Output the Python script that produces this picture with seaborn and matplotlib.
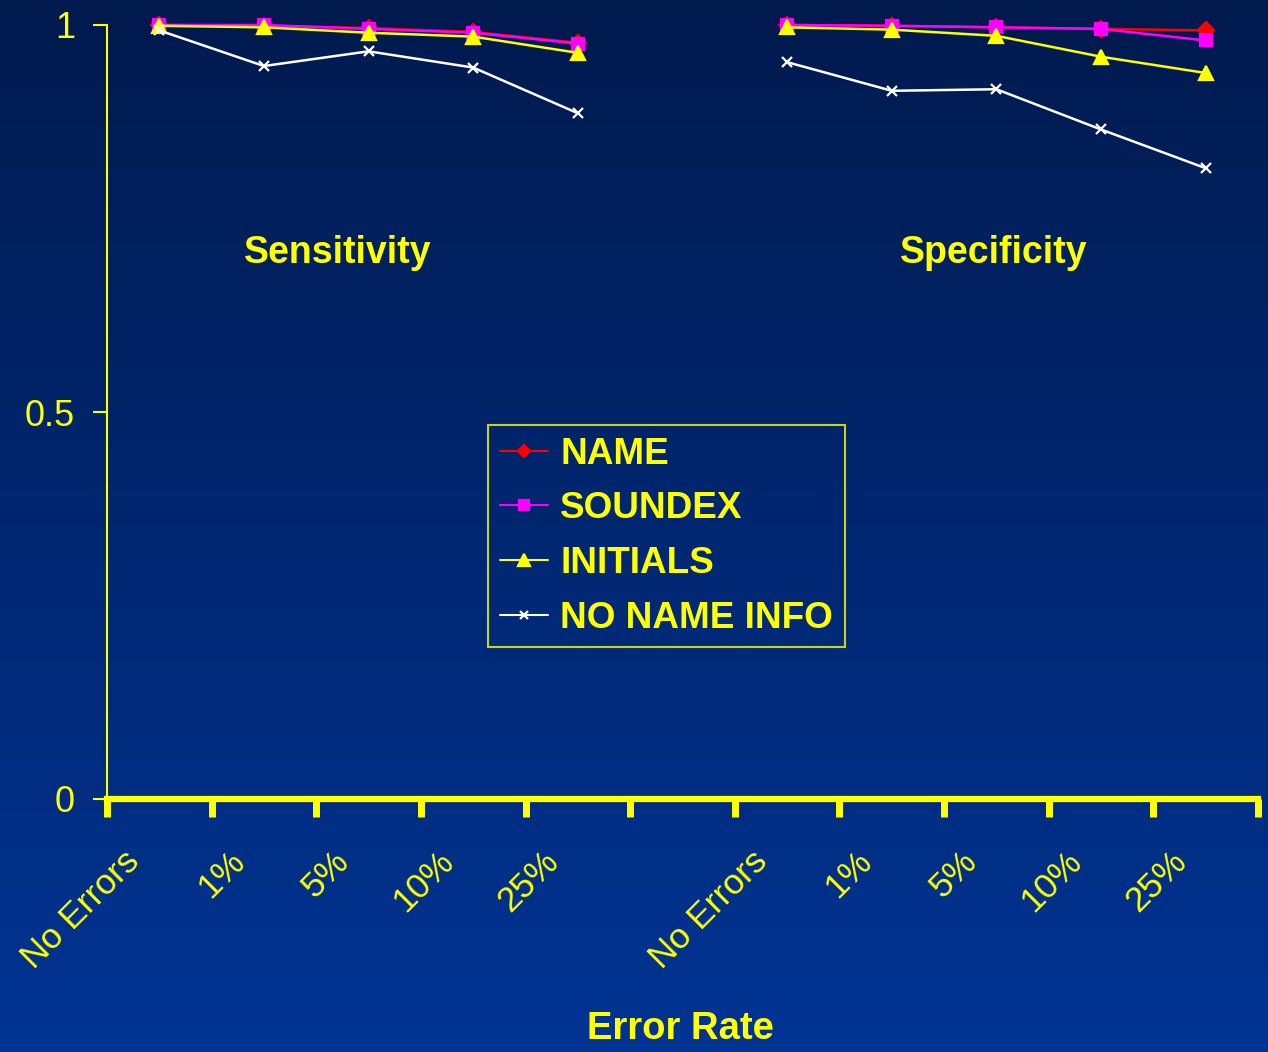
import numpy as np
import pandas as pd
import matplotlib
matplotlib.use("Agg")
import matplotlib.pyplot as plt
import matplotlib.transforms as mtransforms
from matplotlib.colors import LinearSegmentedColormap
import seaborn as sns

# ---- data ----
error_rates = ["No Errors", "1%", "5%", "10%", "25%"]
methods = ["NAME", "SOUNDEX", "INITIALS", "NO NAME INFO"]

sens_name = [1.000, 0.999, 0.996, 0.991, 0.977]
sens_soundex = [1.000, 1.000, 0.995, 0.990, 0.976]
sens_initials = [0.999, 0.997, 0.990, 0.985, 0.964]
sens_noname = [0.993, 0.947, 0.966, 0.945, 0.886]

spec_name = [1.000, 0.999, 0.997, 0.995, 0.993]
spec_soundex = [1.000, 0.999, 0.997, 0.995, 0.980]
spec_initials = [0.997, 0.994, 0.986, 0.959, 0.938]
spec_noname = [0.952, 0.915, 0.917, 0.865, 0.815]

group_titles = ["Sensitivity", "Specificity"]

YELLOW = "#FFFF00"
colors = {"NAME": "#FF0000", "SOUNDEX": "#FF00FF",
          "INITIALS": "#FFFF00", "NO NAME INFO": "#FFFFFF"}
markers = {"NAME": "D", "SOUNDEX": "s", "INITIALS": "^", "NO NAME INFO": "x"}
msizes = {"NAME": 8, "SOUNDEX": 9, "INITIALS": 10, "NO NAME INFO": 7}

# long-form table: one group of five categories, an empty slot, then the next group
rows = []
series = {
    "Sensitivity": [sens_name, sens_soundex, sens_initials, sens_noname],
    "Specificity": [spec_name, spec_soundex, spec_initials, spec_noname],
}
for g, title in enumerate(group_titles):
    for m, vals in zip(methods, series[title]):
        for i, v in enumerate(vals):
            rows.append({"pos": g * 6 + i, "value": v, "method": m, "measure": title})
df = pd.DataFrame(rows)

sns.set_theme(style="white")
plt.rcParams["font.family"] = ["Liberation Sans", "DejaVu Sans"]

fig = plt.figure(figsize=(12.68, 10.52), dpi=100)

# background gradient
bg = fig.add_axes([0, 0, 1, 1], zorder=-10)
cmap = LinearSegmentedColormap.from_list("bg", ["#011A4E", "#003494"])
grad = np.linspace(0, 1, 256).reshape(-1, 1)
bg.imshow(grad, aspect="auto", cmap=cmap, extent=[0, 1, 0, 1], origin="upper")
bg.set_axis_off()

ax = fig.add_axes([107 / 1268, 1 - 799 / 1052, (1258 - 107) / 1268, (799 - 25) / 1052])
ax.set_facecolor("none")

for m in methods:
    for title in group_titles:
        sub = df[(df["measure"] == title) & (df["method"] == m)]
        sns.lineplot(data=sub, x="pos", y="value", color=colors[m],
                     marker=markers[m], markersize=msizes[m],
                     markeredgecolor=colors[m], markerfacecolor=colors[m],
                     markeredgewidth=1.6, linewidth=1.8, ax=ax, clip_on=False,
                     label=m if title == group_titles[0] else None,
                     legend=False)

ax.set_xlim(-0.5, 10.5)
ax.set_ylim(0, 1)

labels = error_rates + [""] + error_rates
ax.set_xticks(range(11))
ax.set_xticklabels(labels)
ax.set_xticks(np.arange(-0.5, 11, 1.0), minor=True)
ax.tick_params(axis="x", which="major", length=0, pad=33, labelsize=25.5,
               labelcolor=YELLOW)
ax.tick_params(axis="x", which="minor", length=13, width=5, color=YELLOW,
               direction="out", bottom=True)
offset = mtransforms.ScaledTranslation(-13 / 100, 0, fig.dpi_scale_trans)
for lab in ax.get_xticklabels():
    lab.set_rotation(45)
    lab.set_ha("right")
    lab.set_va("top")
    lab.set_transform(lab.get_transform() + offset)

ax.set_yticks([0, 0.5, 1])
ax.set_yticklabels(["0", "0.5", "1"])
ax.tick_params(axis="y", length=10, width=1.5, color=YELLOW, direction="out",
               pad=13, labelsize=26, labelcolor=YELLOW, left=True)

for side in ["top", "right"]:
    ax.spines[side].set_visible(False)
ax.spines["left"].set_color(YELLOW)
ax.spines["left"].set_linewidth(1.5)
ax.spines["bottom"].set_color(YELLOW)
ax.spines["bottom"].set_linewidth(4.5)
ax.spines["bottom"].set_zorder(5)
ax.set_xlabel("")
ax.set_ylabel("")
ax.grid(False)

# group titles
for xf, title in zip([0.2007, 0.770], group_titles):
    ax.text(xf, 0.705, title, transform=ax.transAxes, ha="center", va="center",
            color=YELLOW, fontsize=27, fontweight="bold")

fig.text(680 / 1268, 1 - 1029 / 1052, "Error Rate", ha="center", va="center",
         color=YELLOW, fontsize=27.5, fontweight="bold")

# legend
handles, leg_labels = ax.get_legend_handles_labels()
leg = ax.legend(handles, leg_labels, loc="upper left",
                bbox_to_anchor=(488 / 1268, 1 - 425 / 1052),
                bbox_transform=fig.transFigure, borderaxespad=0,
                frameon=True, fancybox=False, edgecolor=YELLOW, facecolor="none",
                prop={"size": 26.6, "weight": "bold"}, handlelength=1.3,
                handletextpad=0.33, labelspacing=0.53, borderpad=0.32,
                markerscale=0.8)
leg.get_frame().set_linewidth(1.5)
for t in leg.get_texts():
    t.set_color(YELLOW)
for h in leg.legend_handles:
    h.set_linewidth(1.5)

fig.savefig("out.png", dpi=100)
